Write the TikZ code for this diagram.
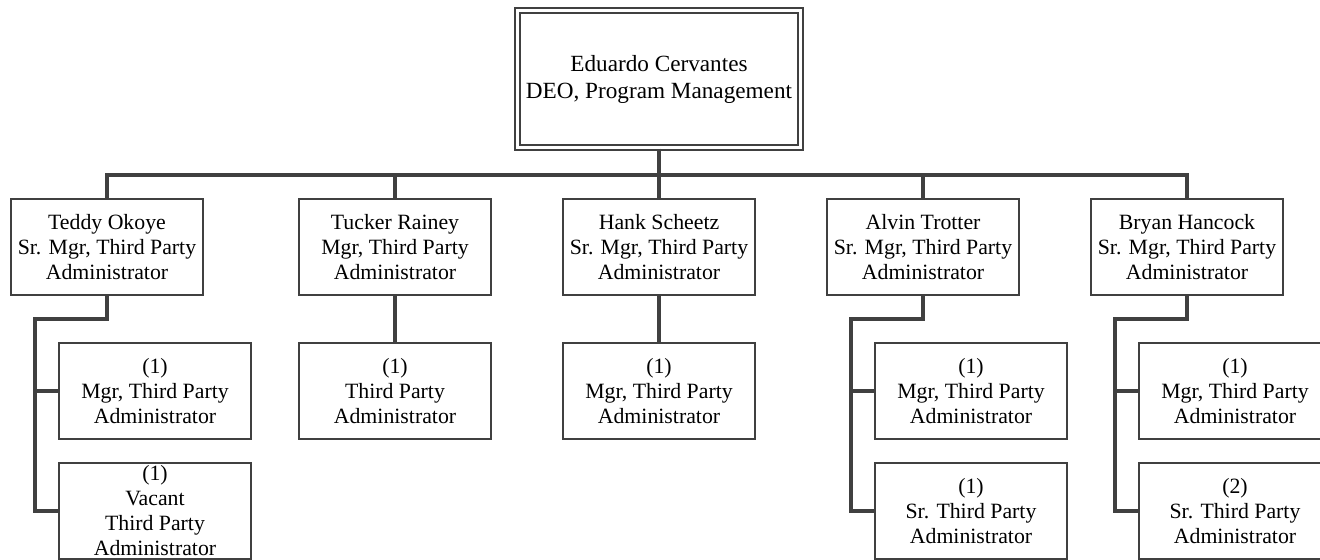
\documentclass[tikz,border=0pt]{standalone}
\usepackage{fontspec}
\setmainfont{Liberation Serif}
\usepackage{tikz}
\usetikzlibrary{positioning, calc, shadows}
\definecolor{linegray}{RGB}{64, 64, 64}

\tikzset{
  staffbox/.style={rectangle, draw=linegray, line width=1.1pt, fill=white, minimum width=96pt, minimum height=48pt, inner sep=0.5pt, align=center, font=\fontsize{10.9}{12.5}\selectfont},
  headbox/.style={rectangle, draw=linegray, line width=1pt, double=white, double distance=1.5pt, fill=white, minimum width=141.5pt, minimum height=68.75pt, align=center, font=\fontsize{11.6}{13.5}\selectfont, drop shadow={shadow xshift=1.5pt, shadow yshift=-1.5pt, fill=black!20, opacity=1}},
  link/.style={draw=linegray, line width=1.6pt}
}

\begin{document}
\begin{tikzpicture}[x=0.5pt, y=-0.5pt]
  \clip (0,0) rectangle (1320,560);

  % head
  \node[headbox] (head) at (659, 79) {Eduardo Cervantes\\DEO, Program Management};

  % managers
  \node[staffbox] (teddy) at (107, 247) {Teddy Okoye\\Sr. Mgr, Third Party\\Administrator};
  \node[staffbox] (tucker) at (395, 247) {Tucker Rainey\\Mgr, Third Party\\Administrator};
  \node[staffbox] (hank) at (659, 247) {Hank Scheetz\\Sr. Mgr, Third Party\\Administrator};
  \node[staffbox] (alvin) at (923, 247) {Alvin Trotter\\Sr. Mgr, Third Party\\Administrator};
  \node[staffbox] (bryan) at (1187, 247) {Bryan Hancock\\Sr. Mgr, Third Party\\Administrator};

  % staff
  \node[staffbox] (tmgr) at (155, 391) {(1)\\Mgr, Third Party\\Administrator};
  \node[staffbox] (tvac) at (155, 511) {(1)\\Vacant\\Third Party\\Administrator};
  \node[staffbox] (ttpa) at (395, 391) {(1)\\Third Party\\Administrator};
  \node[staffbox] (hmgr) at (659, 391) {(1)\\Mgr, Third Party\\Administrator};
  \node[staffbox] (amgr) at (971, 391) {(1)\\Mgr, Third Party\\Administrator};
  \node[staffbox] (asr) at (971, 511) {(1)\\Sr. Third Party\\Administrator};
  \node[staffbox] (bmgr) at (1235, 391) {(1)\\Mgr, Third Party\\Administrator};
  \node[staffbox] (bsr) at (1235, 511) {(2)\\Sr. Third Party\\Administrator};

  \coordinate (bus) at (659, 175);
  \coordinate (tspine) at (35, 319);
  \coordinate (aspine) at (851, 319);
  \coordinate (bspine) at (1115, 319);

  % links
  \draw[link] (head.south) -- (hank.north);
  \draw[link] (teddy.north) |- (bus) -| (bryan.north);
  \draw[link] (tucker.north) -- (tucker.north |- bus);
  \draw[link] (alvin.north) -- (alvin.north |- bus);

  \draw[link] (tucker.south) -- (ttpa.north);
  \draw[link] (hank.south) -- (hmgr.north);

  \draw[link] (teddy.south) |- (tspine) |- (tvac.west);
  \draw[link] (tspine) |- (tmgr.west);
  \draw[link] (alvin.south) |- (aspine) |- (asr.west);
  \draw[link] (aspine) |- (amgr.west);
  \draw[link] (bryan.south) |- (bspine) |- (bsr.west);
  \draw[link] (bspine) |- (bmgr.west);
\end{tikzpicture}
\end{document}
